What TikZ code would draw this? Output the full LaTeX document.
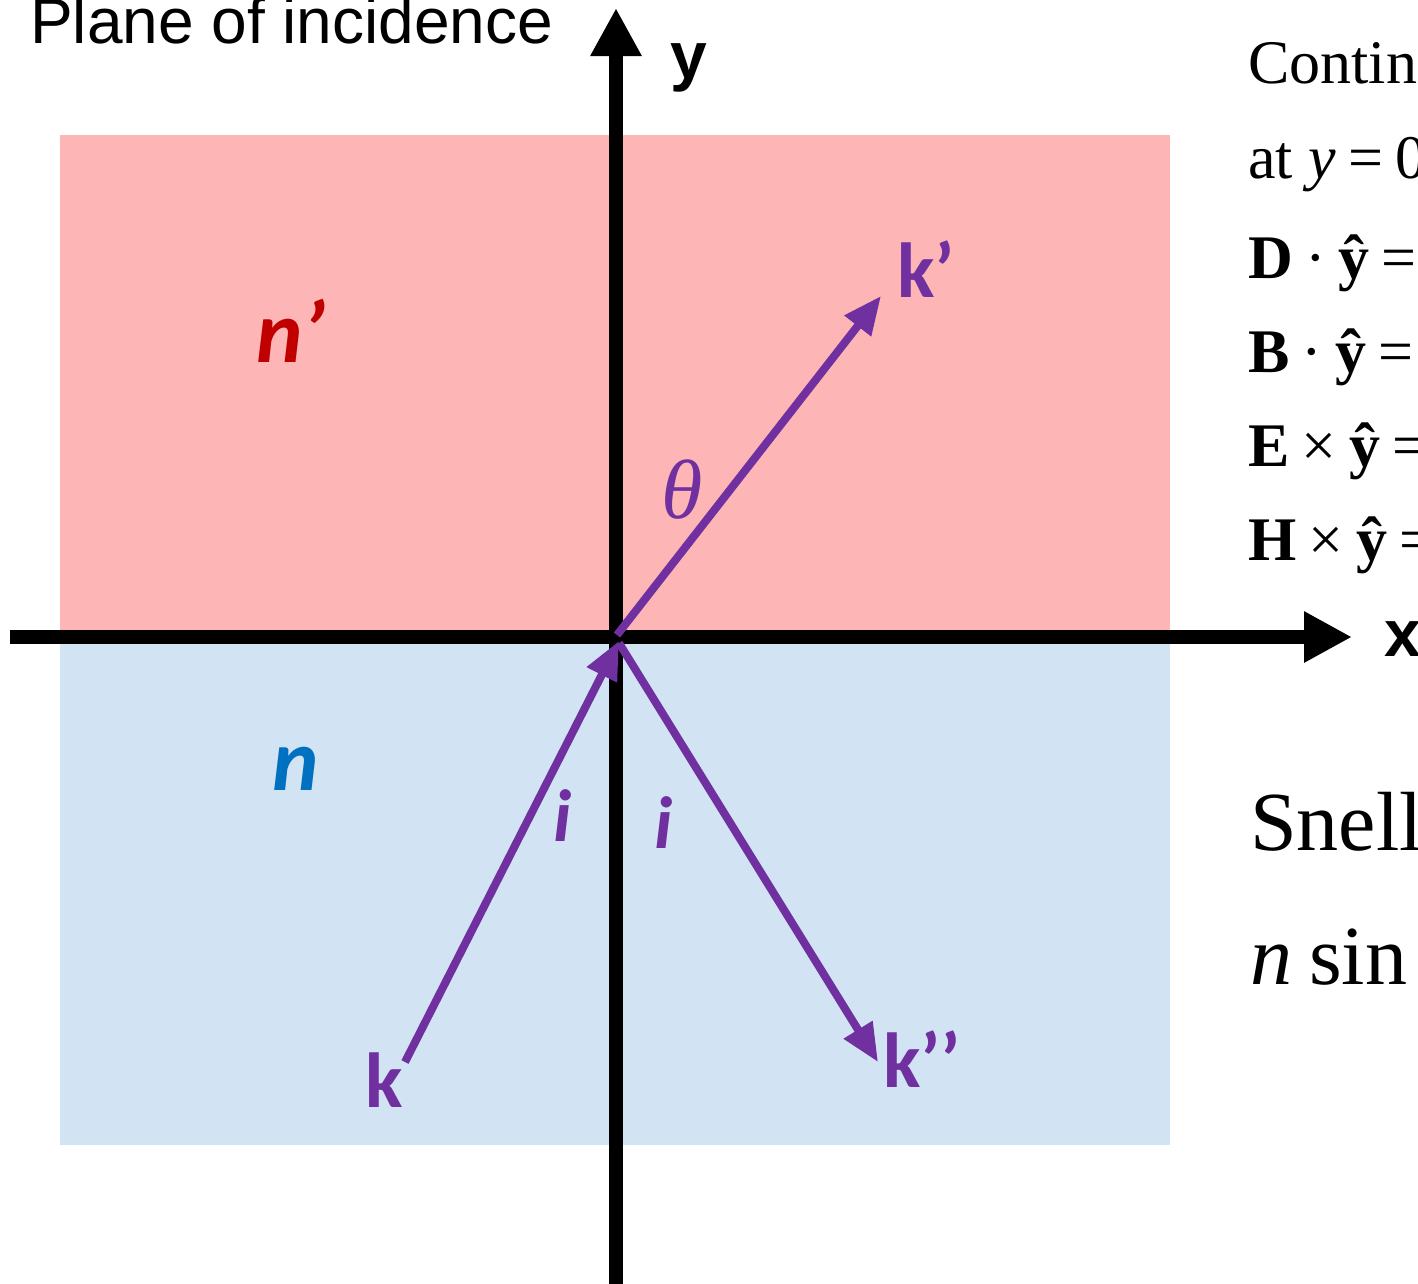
\documentclass[tikz,border=0pt]{standalone}
\usepackage{fontspec}
\setmainfont{Liberation Serif}
\newfontfamily\arialf{Liberation Sans}
\newfontfamily\calf{Carlito}
\usetikzlibrary{arrows.meta}
\definecolor{pinkc}{HTML}{FDB5B5}
\definecolor{bluec}{HTML}{D2E4F3}
\definecolor{purp}{HTML}{7030A0}
\definecolor{redl}{HTML}{C00000}
\definecolor{bluel}{HTML}{0070C0}
\newcommand{\opsp}{\hspace{0.2em}}
\begin{document}
\begin{tikzpicture}[x=1pt,y=-1pt,
  axis/.style={line width=14pt,-{Triangle[length=48pt,width=48pt]}},
  ray/.style={purp,line width=8pt,-{Triangle[length=38pt,width=32pt]}},
  klab/.style={purp,anchor=base west,inner sep=0pt,font=\calf\bfseries\fontsize{78}{80}\selectfont},
  nlab/.style={anchor=base west,inner sep=0pt,font=\calf\bfseries\itshape\fontsize{88}{90}\selectfont},
  ilab/.style={purp,inner sep=0pt,font=\calf\bfseries\itshape\fontsize{74}{76}\selectfont},
  axlab/.style={anchor=base west,inner sep=0pt,font=\arialf\bfseries\fontsize{66}{68}\selectfont},
  eq/.style={anchor=base west,inner sep=0pt,font=\fontsize{62}{64}\selectfont},
  big/.style={anchor=base west,inner sep=0pt,font=\fontsize{84}{86}\selectfont}]
\useasboundingbox (0,0) rectangle (1418,1283);
\clip (0,0) rectangle (1418,1283);
\fill[white] (0,0) rectangle (1418,1283);
% media
\fill[pinkc] (60,135) rectangle (1170,637);
\fill[bluec] (60,637) rectangle (1170,1145);
% axes
\coordinate (xl) at (10,637);
\coordinate (xr) at (1352,637);
\coordinate (yb) at (616,1290);
\coordinate (yt) at (616,8);
\draw[axis] (xl) -- (xr);
\draw[axis] (yb) -- (yt);
\node[axlab] (ylab) at (670,78) {y};
\node[axlab] (xlab) at (1384,656) {x};
% title
\node[anchor=base west,inner sep=0pt,font=\arialf\fontsize{64}{66}\selectfont] (title) at (30,43) {Plane of incidence};
% rays
\coordinate (kin) at (405,1062);
\coordinate (Oin) at (619,641);
\coordinate (Oref) at (619,643);
\coordinate (kref) at (878,1062);
\coordinate (Otr) at (617,635);
\coordinate (ktr) at (881,296);
\draw[ray] (kin) -- (Oin);
\draw[ray] (Oref) -- (kref);
\draw[ray] (Otr) -- (ktr);
% labels
\node[klab] (kp) at (897,297) {k’};
\node[klab] (kpp) at (883,1087) {k’’};
\node[klab] (k) at (365,1107) {k};
\node[nlab,redl] (np) at (256,362) {n’};
\node[nlab,bluel] (n) at (272,790) {n};
\node[ilab] (i1) at (563,816) {i};
\node[ilab] (i2) at (664,823) {i};
\node[purp,inner sep=0pt,font=\fontsize{84}{86}\selectfont\itshape] (th) at (682,490) {θ};
% right text
\node[eq] (l1) at (1248,83) {Contin};
\node[eq] (l2) at (1248,178) {at \textit{y}\opsp=\opsp0};
\node[eq] (l3) at (1248,278) {\textbf{D}\opsp·\opsp\textbf{ŷ}\opsp=};
\node[eq] (l4) at (1248,372) {\textbf{B}\opsp·\opsp\textbf{ŷ}\opsp=};
\node[eq] (l5) at (1248,466) {\textbf{E}\opsp×\opsp\textbf{ŷ}\opsp=};
\node[eq] (l6) at (1248,560) {\textbf{H}\opsp×\opsp\textbf{ŷ}\opsp=};
\node[big] (s1) at (1250,850) {Snell};
\node[big] (s2) at (1250,984) {\textit{n}\opsp sin};
\end{tikzpicture}
\end{document}
